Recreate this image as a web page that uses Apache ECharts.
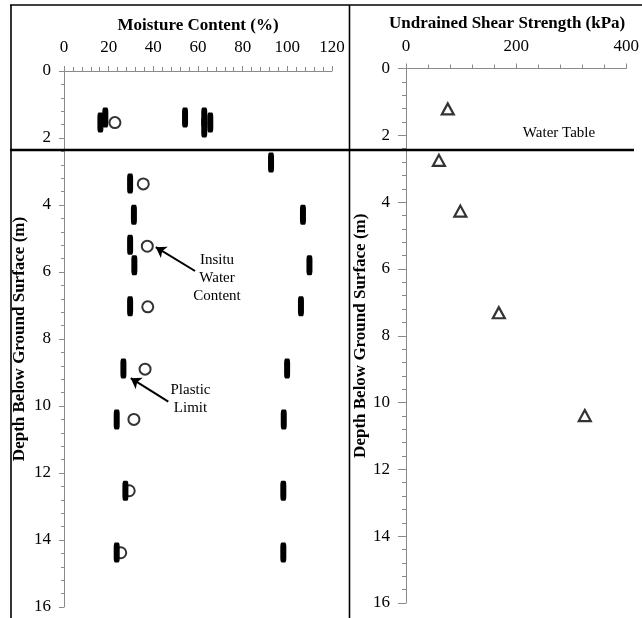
<!DOCTYPE html>
<html><head><meta charset="utf-8">
<script src="https://cdn.jsdelivr.net/npm/echarts@6.0.0/dist/echarts.min.js"></script>
<style>html,body{margin:0;padding:0;background:#fff}#c{width:642px;height:618px}</style>
</head><body><div id="c"></div>
<script>
// ---- data (depth in m, moisture in %, strength in kPa) ----
const plasticLimit = [[16.3,1.54],[18.5,1.39],[29.6,3.36],[31.3,4.29],[29.6,5.19],[31.5,5.8],[29.6,7.02],[26.6,8.88],[23.6,10.4],[27.5,12.53],[23.6,14.37]];
const liquidLimit = [[54.2,1.39],[62.8,1.39],[62.8,1.69],[65.5,1.54],[92.7,2.73],[107,4.29],[109.9,5.8],[106.1,7.02],[99.9,8.88],[98.4,10.4],[98.2,12.53],[98.2,14.37]];
const insituWater = [[22.8,1.54],[35.5,3.37],[37.3,5.23],[37.5,7.04],[36.3,8.9],[31.3,10.4],[29.2,12.53],[25.4,14.38]];
const shearStrength = [[75.9,1.21],[59.8,2.75],[98.7,4.27],[168.6,7.31],[324.7,10.39]];
const waterTableDepth = 2.36;
const insituArrow = [[58.7,5.97],[41.1,5.26]];
const plasticArrow = [[46.7,9.87],[29.9,9.17]];
const depthRange = [0,16], moistureRange = [0,120], strengthRange = [0,400];

const FONT = '"Liberation Serif","Times New Roman",serif';
const axisGray = '#8a8a8a';
const chart = echarts.init(document.getElementById('c'));

function xAx(gi, range, interval, name, labelMargin, nameGap, namePad) {
  return {
    gridIndex: gi, type: 'value', position: 'top', min: range[0], max: range[1], interval: interval,
    name: name, nameLocation: 'middle', nameGap: nameGap,
    nameTextStyle: {fontFamily: FONT, fontSize: 17, fontWeight: 'bold', color: '#000', padding: namePad},
    axisLine: {show: true, onZero: false, lineStyle: {color: axisGray, width: 1}},
    axisTick: {show: true, length: 5, lineStyle: {color: axisGray}},
    minorTick: {show: true, splitNumber: 5, length: 4, lineStyle: {color: axisGray}},
    splitLine: {show: false},
    axisLabel: {fontFamily: FONT, fontSize: 17, color: '#000', margin: labelMargin}
  };
}
function yAx(gi, name, labelMargin, nameGap, tickLen, minorLen) {
  return {
    gridIndex: gi, type: 'value', inverse: true, min: depthRange[0], max: depthRange[1], interval: 2,
    name: name, nameLocation: 'middle', nameGap: nameGap, nameRotate: 90,
    nameTextStyle: {fontFamily: FONT, fontSize: 17, fontWeight: 'bold', color: '#000'},
    axisLine: {show: true, onZero: false, lineStyle: {color: axisGray, width: 1}},
    axisTick: {show: true, length: tickLen, lineStyle: {color: axisGray}},
    minorTick: {show: true, splitNumber: 5, length: minorLen, lineStyle: {color: axisGray}},
    splitLine: {show: false},
    axisLabel: {fontFamily: FONT, fontSize: 17, color: '#000', margin: labelMargin}
  };
}

const arrowLine = (pts) => [{coord: pts[0], symbol: 'none'}, {coord: pts[1], symbol: 'arrow', symbolSize: 10}];

chart.setOption({
  animation: false,
  backgroundColor: '#fff',
  grid: [
    {left: 64, top: 71, width: 268, height: 536},
    {left: 406, top: 68.5, width: 222, height: 534.5}
  ],
  xAxis: [
    xAx(0, moistureRange, 20, 'Moisture Content (%)', 15, 37, [0,0,0,0]),
    xAx(1, strengthRange, 200, 'Undrained Shear Strength (kPa)', 13, 36, [0,18,0,0])
  ],
  yAxis: [
    yAx(0, 'Depth Below Ground Surface (m)', 13, 36, 5, 3),
    yAx(1, 'Depth Below Ground Surface (m)', 16, 37, 8, 4)
  ],
  series: [
    {type: 'scatter', name: 'Insitu Water Content', xAxisIndex: 0, yAxisIndex: 0, data: insituWater,
     symbol: 'circle', symbolSize: 11, z: 3,
     itemStyle: {color: 'rgba(255,255,255,0)', borderColor: '#000', borderWidth: 2},
     markLine: {silent: true, animation: false, label: {show: false},
       lineStyle: {color: '#000', width: 2, type: 'solid'},
       data: [arrowLine(insituArrow), arrowLine(plasticArrow)]}},
    {type: 'scatter', name: 'Plastic Limit', xAxisIndex: 0, yAxisIndex: 0, data: plasticLimit,
     symbol: 'roundRect', symbolSize: [6, 20], z: 2, itemStyle: {color: '#000', opacity: 1}},
    {type: 'scatter', name: 'Liquid Limit', xAxisIndex: 0, yAxisIndex: 0, data: liquidLimit,
     symbol: 'roundRect', symbolSize: [6, 20], z: 2, itemStyle: {color: '#000', opacity: 1}},
    {type: 'scatter', name: 'Undrained Shear Strength', xAxisIndex: 1, yAxisIndex: 1, data: shearStrength,
     symbol: 'triangle', symbolSize: [12, 11],
     itemStyle: {color: 'rgba(255,255,255,0)', borderColor: '#000', borderWidth: 2.2}}
  ]
});

const wtY = chart.convertToPixel({yAxisIndex: 0}, waterTableDepth);
const frame = {stroke: '#000', lineWidth: 1.6};
chart.setOption({
  graphic: [
    {type: 'line', shape: {x1: 10, y1: wtY, x2: 634, y2: wtY}, style: {stroke: '#000', lineWidth: 2.6}, z: 10},
    {type: 'line', shape: {x1: 10, y1: 5, x2: 642, y2: 5}, style: frame},
    {type: 'line', shape: {x1: 11, y1: 5, x2: 11, y2: 618}, style: frame},
    {type: 'line', shape: {x1: 349.5, y1: 5, x2: 349.5, y2: 618}, style: frame},
    {type: 'text', x: 559, y: 133, style: {text: 'Water Table', font: '15px ' + FONT, fill: '#000', align: 'center', verticalAlign: 'middle'}},
    {type: 'text', x: 217, y: 278, style: {text: 'Insitu\nWater\nContent', font: '15px ' + FONT, lineHeight: 18, fill: '#000', align: 'center', verticalAlign: 'middle'}},
    {type: 'text', x: 190.5, y: 399, style: {text: 'Plastic\nLimit', font: '15px ' + FONT, lineHeight: 18, fill: '#000', align: 'center', verticalAlign: 'middle'}}
  ]
});
</script></body></html>
